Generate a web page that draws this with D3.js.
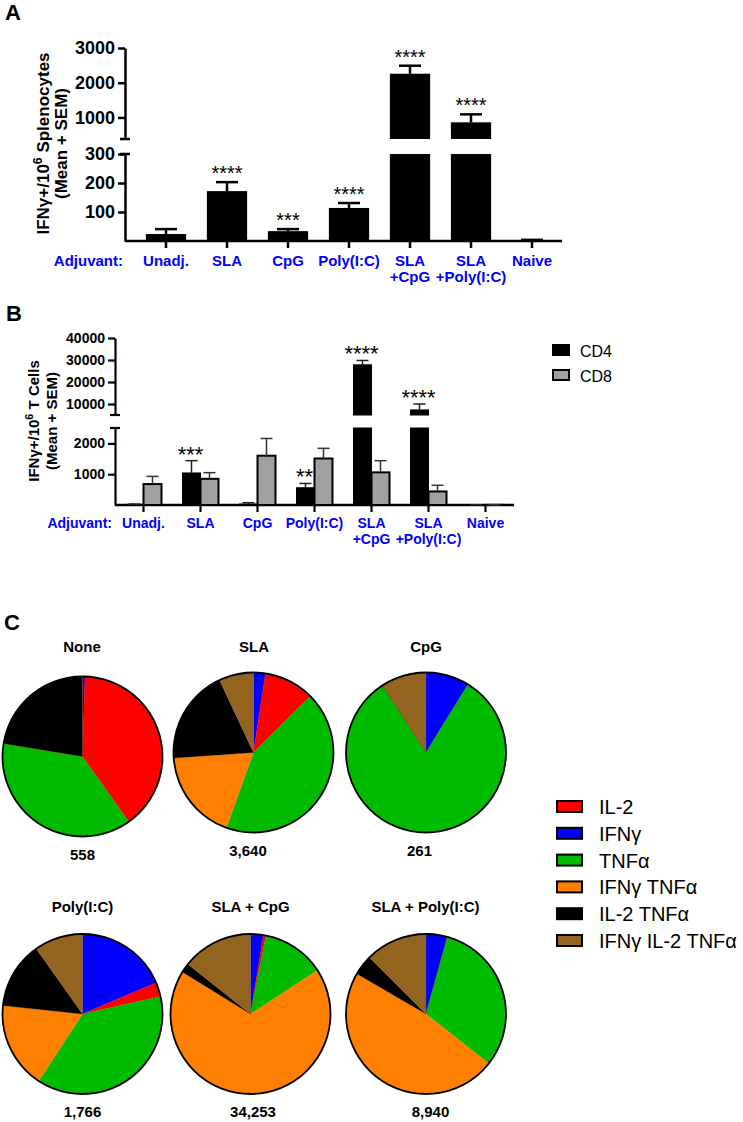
<!DOCTYPE html>
<html><head><meta charset="utf-8">
<script src="https://cdn.jsdelivr.net/npm/d3@7"></script>
<style>body{margin:0;background:#fff}svg{display:block;font-family:Arial,"Liberation Sans",Helvetica,sans-serif}</style>
</head><body>
<svg id="c" width="743" height="1122"></svg>
<script>
// ---------------- DATA ----------------
const adjuvants = ["Unadj.", "SLA", "CpG", "Poly(I:C)", "SLA|+CpG", "SLA|+Poly(I:C)", "Naive"];
const splenoMean = [24, 172, 34, 114, 2260, 860, 3];
const splenoSEM  = [17, 31, 7, 17, 230, 230, 1];
const splenoSig  = ["", "****", "***", "****", "****", "****", ""];
const aLowTicks = [100, 200, 300];
const aHighTicks = [1000, 2000, 3000];

const tcellSeries = ["CD4", "CD8"];
const cd4Mean = [20, 1040, 30, 560, 27800, 7300, 5];
const cd4SEM  = [10, 400, 45, 140, 2000, 2700, 3];
const cd8Mean = [680, 850, 1600, 1510, 1060, 440, 5];
const cd8SEM  = [250, 200, 560, 330, 380, 200, 0];
const cd4Sig  = ["", "***", "", "**", "****", "****", ""];
const bLowTicks = [1000, 2000];
const bHighTicks = [10000, 20000, 30000, 40000];

const pieTitles = ["None", "SLA", "CpG", "Poly(I:C)", "SLA + CpG", "SLA + Poly(I:C)"];
const pieTotals = ["558", "3,640", "261", "1,766", "34,253", "8,940"];
// slice order, clockwise from 12 o'clock
const cytokines = ["IFNγ", "IL-2", "TNFα", "IFNγ TNFα", "IL-2 TNFα", "IFNγ IL-2 TNFα"];
const pieNone    = [0.5, 39.7, 37.4, 0, 22.4, 0];
const pieSLA     = [2.4, 10.2, 42.9, 18.4, 19.1, 7.0];
const pieCpG     = [8.8, 0, 82.1, 0, 0, 9.1];
const piePoly    = [18.6, 2.9, 37.7, 17.5, 13.5, 9.8];
const pieSLACpG  = [2.6, 0.5, 12.7, 68.0, 1.9, 14.3];
const pieSLAPoly = [4.3, 0, 31.3, 47.8, 4.1, 12.5];
const legendOrder = ["IL-2", "IFNγ", "TNFα", "IFNγ TNFα", "IL-2 TNFα", "IFNγ IL-2 TNFα"];

// ---------------- STYLE ----------------
const BLUE = "#0000ff";
const cytoColor = d3.scaleOrdinal(cytokines, ["#0000ff", "#ff0000", "#00bb00", "#ff8000", "#000000", "#936420"]);
const svg = d3.select("#c");

function panelLetter(t, x, y) {
  svg.append("text").attr("x", x).attr("y", y).attr("font-size", 22).attr("font-weight", "bold").text(t);
}

function yTitle(g, x1, x2, cy, fs, main) {
  const t1 = g.append("text").attr("transform", `translate(${x1},${cy}) rotate(-90)`)
    .attr("text-anchor", "middle").attr("font-size", fs).attr("font-weight", "bold");
  t1.append("tspan").text("IFNγ+/10");
  t1.append("tspan").attr("dy", -fs * 0.4).attr("font-size", fs * 0.72).text("6");
  t1.append("tspan").attr("dy", fs * 0.4).text(" " + main);
  g.append("text").attr("transform", `translate(${x2},${cy}) rotate(-90)`)
    .attr("text-anchor", "middle").attr("font-size", fs).attr("font-weight", "bold").text("(Mean + SEM)");
}

function brokenAxis(g, x, low, high, lowTicks, highTicks, fs, sw) {
  [[low, lowTicks], [high, highTicks]].forEach(([s, tv]) => {
    const ax = g.append("g").attr("transform", `translate(${x},0)`)
      .call(d3.axisLeft(s).tickValues(tv).tickSize(7).tickPadding(3).tickSizeOuter(0).tickFormat(d3.format("d")));
    ax.select(".domain").attr("stroke-width", sw);
    ax.selectAll(".tick line").attr("stroke-width", sw);
    ax.selectAll(".tick text").attr("font-size", fs).attr("font-weight", "bold").attr("fill", "#000");
  });
  const ends = [high.range()[0], low.range()[1]];
  ends.forEach(y => g.append("line").attr("x1", x - 5).attr("x2", x + 5).attr("y1", y).attr("y2", y)
    .attr("stroke", "#000").attr("stroke-width", sw));
}

function brokenBar(g, x, w, v, sem, low, high, fill, stroke, sw, errW, errColor, errSw) {
  const lowMax = low.domain()[1];
  const add = (y0, y1) => g.append("rect").attr("x", x).attr("width", w)
    .attr("y", Math.min(y0, y1)).attr("height", Math.abs(y1 - y0))
    .attr("fill", fill).attr("stroke", stroke).attr("stroke-width", sw);
  let yv, yt;
  if (v <= lowMax) {
    add(low(v), low(0));
    yv = low(v); yt = low(v + sem);
  } else {
    add(low(lowMax), low(0));
    add(high(v), high(high.domain()[0]));
    yv = high(v); yt = high(v + sem);
  }
  const cx = x + w / 2;
  g.append("line").attr("x1", cx).attr("x2", cx).attr("y1", yv).attr("y2", yt)
    .attr("stroke", errColor).attr("stroke-width", errSw);
  g.append("line").attr("x1", cx - errW / 2).attr("x2", cx + errW / 2).attr("y1", yt).attr("y2", yt)
    .attr("stroke", errColor).attr("stroke-width", errSw);
  return yt;
}

function xLabels(g, xs, y0, lh, fs, axisX) {
  g.append("text").attr("x", axisX).attr("y", y0).attr("text-anchor", "end")
    .attr("font-size", fs).attr("font-weight", "bold").attr("fill", BLUE).text("Adjuvant:");
  adjuvants.forEach((a, i) => {
    const t = g.append("text").attr("text-anchor", "middle").attr("font-size", fs)
      .attr("font-weight", "bold").attr("fill", BLUE);
    a.split("|").forEach((line, j) => t.append("tspan").attr("x", xs(i)).attr("y", y0 + j * lh).text(line));
  });
}

// ---------------- PANEL A ----------------
panelLetter("A", 5, 20);
{
  const g = svg.append("g");
  const axisX = 125, axisY = 241;
  const x = d3.scaleBand(adjuvants, [135.5, 562.5]).paddingInner(0.34).paddingOuter(0.17);
  const low = d3.scaleLinear([0, 300], [241, 154]);
  const high = d3.scaleLinear([380, 3000], [139, 48]);
  brokenAxis(g, axisX, low, high, aLowTicks, aHighTicks, 18, 2.5);
  g.append("line").attr("x1", axisX).attr("x2", 562).attr("y1", axisY).attr("y2", axisY)
    .attr("stroke", "#000").attr("stroke-width", 2.5);
  const xa = g.append("g").attr("transform", `translate(0,${axisY})`)
    .call(d3.axisBottom(x).tickSize(7).tickFormat(""));
  xa.select(".domain").remove();
  xa.selectAll(".tick line").attr("stroke-width", 2.5);
  adjuvants.forEach((a, i) => {
    const yt = brokenBar(g, x(a), x.bandwidth(), splenoMean[i], splenoSEM[i], low, high,
      "#000", "none", 0, 22, "#000", 2.5);
    if (splenoSig[i]) g.append("text").attr("x", x(a) + x.bandwidth() / 2).attr("y", yt - 2)
      .attr("text-anchor", "middle").attr("font-size", 20).text(splenoSig[i]);
  });
  xLabels(g, i => x(adjuvants[i]) + x.bandwidth() / 2, 266, 16, 15, 123);
  yTitle(g, 49, 67, 143.5, 17, "Splenocytes");
}

// ---------------- PANEL B ----------------
panelLetter("B", 6, 321);
{
  const g = svg.append("g");
  const axisX = 115, axisY = 505;
  const x = d3.scaleBand(adjuvants, [115, 514]);
  const xs = d3.scaleBand(tcellSeries, [x.bandwidth() / 2 - 18, x.bandwidth() / 2 + 18]);
  const low = d3.scaleLinear([0, 2500], [505, 428]);
  const high = d3.scaleLinear([5000, 40000], [415, 338]);
  brokenAxis(g, axisX, low, high, bLowTicks, bHighTicks, 14, 2.2);
  g.append("line").attr("x1", axisX).attr("x2", 514).attr("y1", axisY).attr("y2", axisY)
    .attr("stroke", "#000").attr("stroke-width", 2.5);
  const xa = g.append("g").attr("transform", `translate(0,${axisY})`)
    .call(d3.axisBottom(x).tickSize(7).tickFormat(""));
  xa.select(".domain").remove();
  xa.selectAll(".tick line").attr("stroke-width", 2.2);
  adjuvants.forEach((a, i) => {
    const yt = brokenBar(g, x(a) + xs("CD4"), xs.bandwidth(), cd4Mean[i], cd4SEM[i], low, high,
      "#000", "#000", 1, 12, "#222", 1.5);
    brokenBar(g, x(a) + xs("CD8"), xs.bandwidth(), cd8Mean[i], cd8SEM[i], low, high,
      "#a0a0a0", "#000", 2, 12, "#333", 1.5);
    if (cd4Sig[i]) g.append("text").attr("x", x(a) + xs("CD4") + xs.bandwidth() / 2 - 1).attr("y", yt + 1)
      .attr("text-anchor", "middle").attr("font-size", 22).text(cd4Sig[i]);
  });
  xLabels(g, i => x(adjuvants[i]) + x.bandwidth() / 2, 528, 16, 14, 112);
  yTitle(g, 39, 57, 421, 15, "T Cells");
  const leg = g.append("g");
  tcellSeries.forEach((s, i) => {
    leg.append("rect").attr("x", 553).attr("y", 345 + i * 25).attr("width", 16).attr("height", 10)
      .attr("fill", s === "CD4" ? "#000" : "#a0a0a0").attr("stroke", "#000").attr("stroke-width", 2);
    leg.append("text").attr("x", 580).attr("y", 357 + i * 25).attr("font-size", 16).text(s);
  });
}

// ---------------- PANEL C ----------------
panelLetter("C", 4, 630);
{
  const g = svg.append("g");
  const pieData = [pieNone, pieSLA, pieCpG, piePoly, pieSLACpG, pieSLAPoly];
  const layout = [
    {cx: 82.5, cy: 756.5, tx: 82, ty: 652, nx: 82.5, ny: 860},
    {cx: 253.5, cy: 752.5, tx: 254, ty: 652, nx: 248, ny: 856},
    {cx: 426, cy: 752.5, tx: 426, ty: 652, nx: 419.5, ny: 856},
    {cx: 82.5, cy: 1014, tx: 82.5, ty: 912, nx: 82.5, ny: 1117},
    {cx: 250.5, cy: 1014, tx: 250.5, ty: 912, nx: 253, ny: 1117},
    {cx: 426, cy: 1014, tx: 425.5, ty: 912, nx: 430.5, ny: 1117}
  ];
  const R = 80;
  const pie = d3.pie().sort(null).value(d => d);
  const arc = d3.arc().innerRadius(0).outerRadius(R);
  pieData.forEach((vals, k) => {
    const L = layout[k];
    const pg = g.append("g").attr("transform", `translate(${L.cx},${L.cy})`);
    pg.selectAll("path").data(pie(vals)).join("path")
      .attr("d", arc).attr("fill", (d, i) => cytoColor(cytokines[i]))
      .attr("stroke", (d, i) => cytoColor(cytokines[i])).attr("stroke-width", 0.3);
    pg.append("circle").attr("r", R).attr("fill", "none").attr("stroke", "#000").attr("stroke-width", 1.8);
    g.append("text").attr("x", L.tx).attr("y", L.ty).attr("text-anchor", "middle")
      .attr("font-size", 15).attr("font-weight", "bold").text(pieTitles[k]);
    g.append("text").attr("x", L.nx).attr("y", L.ny).attr("text-anchor", "middle")
      .attr("font-size", 15).attr("font-weight", "bold").text(pieTotals[k]);
  });
  const leg = g.append("g");
  legendOrder.forEach((c, i) => {
    leg.append("rect").attr("x", 557).attr("y", 801 + i * 26.8).attr("width", 25).attr("height", 11)
      .attr("fill", cytoColor(c)).attr("stroke", "#000").attr("stroke-width", 2);
    leg.append("text").attr("x", 599).attr("y", 814 + i * 26.8).attr("font-size", 20).text(c);
  });
}
</script>
</body></html>
